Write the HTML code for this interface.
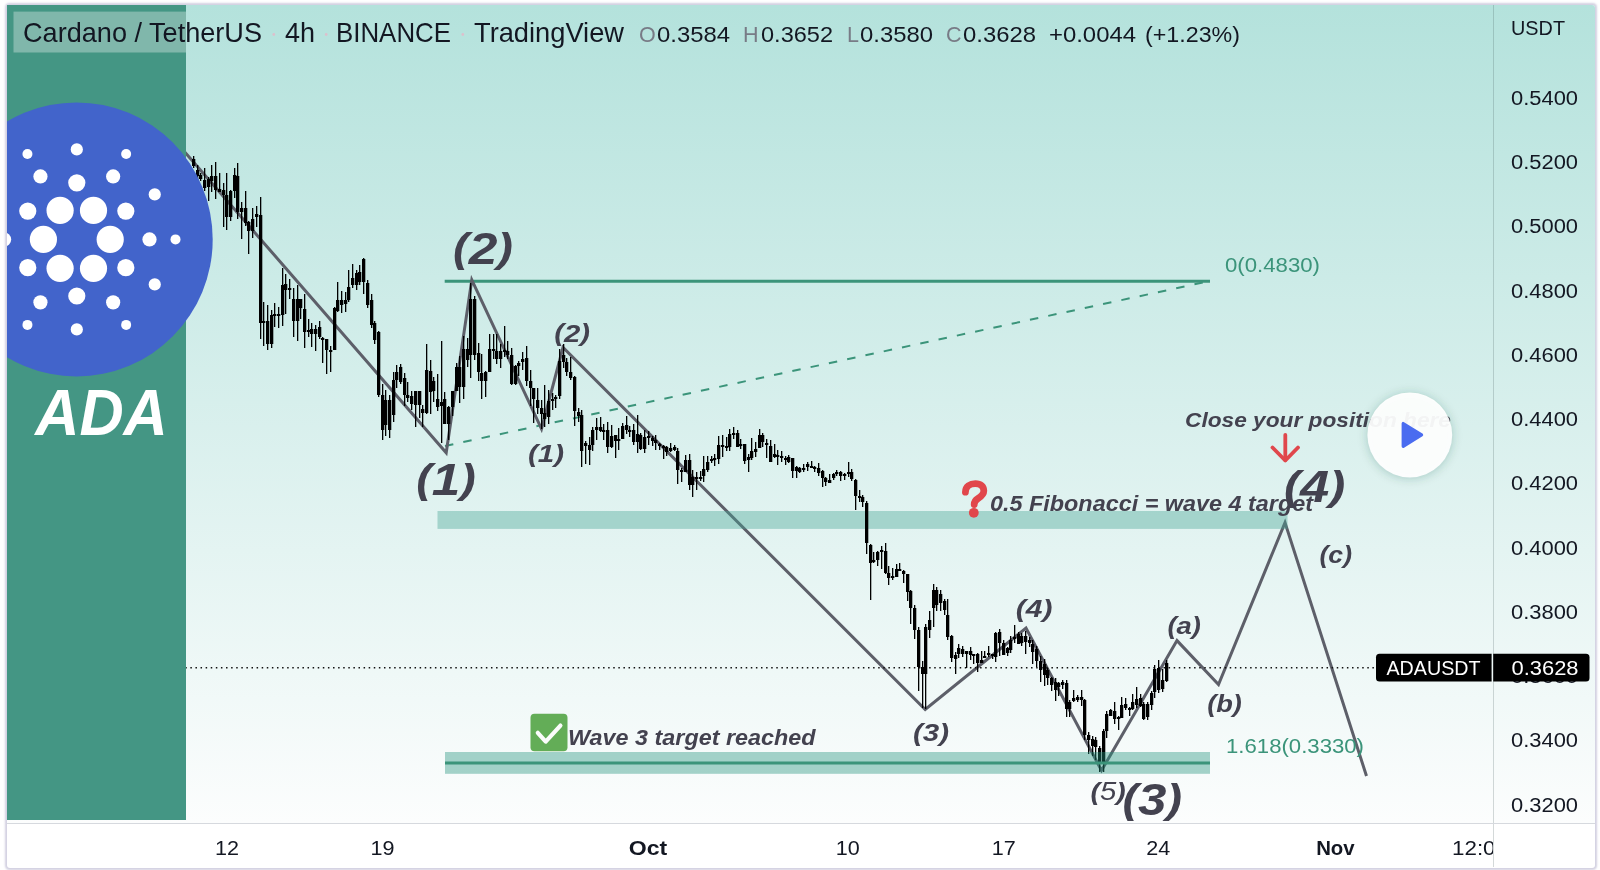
<!DOCTYPE html>
<html><head><meta charset="utf-8">
<style>
html,body{margin:0;padding:0;background:#fff;width:1600px;height:870px;overflow:hidden;}
*{font-family:"Liberation Sans", sans-serif;}
#card{position:absolute;left:7px;top:5px;width:1588px;height:862.5px;border-radius:3px;background:#fff;box-shadow:0 0 2px 1.2px rgba(200,198,218,0.8);}
#bg{position:absolute;left:7px;top:5px;width:1588px;height:818px;border-radius:3px 3px 0 0;background:linear-gradient(180deg,rgb(180,226,220) 0%,rgb(252,253,253) 100%);}
svg{position:absolute;left:0;top:0;will-change:transform;}
</style></head><body>
<div id="card"></div>
<div id="bg"></div>
<svg width="1600" height="870" viewBox="0 0 1600 870" font-family='"Liberation Sans", sans-serif'>
<!-- axes separators -->
<line x1="1493.5" y1="5" x2="1493.5" y2="867" stroke="rgba(60,80,80,0.22)" stroke-width="1"/>
<line x1="7" y1="823.5" x2="1595" y2="823.5" stroke="#d6d9de" stroke-width="1"/>
<!-- bands -->
<line x1="444.7" y1="281.2" x2="1210" y2="281.2" stroke="#3b947a" stroke-width="3"/>
<line x1="445" y1="446" x2="1210" y2="281" stroke="#3b947a" stroke-width="2" stroke-dasharray="8.5 10.2"/>
<!-- wave lines -->
<polyline fill="none" stroke="#5d5f69" stroke-width="3" stroke-linejoin="miter" points="100,54.5 446.2,452.8 471.8,279.8 541.5,428.8 563,347.5 925.2,709.5 1026,628 1101.5,770.5 1177,640.6 1218.5,684.6 1285,522.6 1366.5,776"/>
<!-- dotted price line -->
<line x1="186" y1="667.7" x2="1376" y2="667.7" stroke="#111" stroke-width="1.5" stroke-dasharray="1.5 3.595" stroke-dashoffset="0.735"/>
<!-- upper band (below candles, above wave line) -->
<rect x="437.5" y="511" width="850" height="17.9" fill="rgba(73,165,151,0.4)"/>
<!-- candles -->
<g fill="#000">
<rect x="193" y="156" width="1.3" height="12"/>
<rect x="192" y="159" width="3.3" height="7"/>
<rect x="197" y="165" width="1.3" height="15"/>
<rect x="196" y="170" width="3.3" height="6"/>
<rect x="200" y="173" width="1.3" height="8"/>
<rect x="199" y="175" width="3.3" height="4"/>
<rect x="204" y="168" width="1.3" height="23"/>
<rect x="203" y="180" width="3.3" height="8"/>
<rect x="208" y="177" width="1.3" height="24"/>
<rect x="207" y="179" width="3.3" height="8"/>
<rect x="211" y="165" width="1.3" height="27"/>
<rect x="210" y="176" width="3.3" height="5"/>
<rect x="215" y="162" width="1.3" height="37"/>
<rect x="214" y="176" width="3.3" height="14"/>
<rect x="219" y="173" width="1.3" height="19"/>
<rect x="218" y="189" width="3.3" height="3"/>
<rect x="223" y="183" width="1.3" height="44"/>
<rect x="222" y="190" width="3.3" height="5"/>
<rect x="226" y="173" width="1.3" height="57"/>
<rect x="225" y="195" width="3.3" height="22"/>
<rect x="230" y="190" width="1.3" height="31"/>
<rect x="229" y="191" width="3.3" height="26"/>
<rect x="234" y="168" width="1.3" height="30"/>
<rect x="233" y="175" width="3.3" height="16"/>
<rect x="237" y="163" width="1.3" height="56"/>
<rect x="236" y="176" width="3.3" height="36"/>
<rect x="241" y="202" width="1.3" height="37"/>
<rect x="240" y="208" width="3.3" height="4"/>
<rect x="245" y="191" width="1.3" height="35"/>
<rect x="244" y="208" width="3.3" height="15"/>
<rect x="248" y="221" width="1.3" height="33"/>
<rect x="247" y="222" width="3.3" height="9"/>
<rect x="252" y="208" width="1.3" height="30"/>
<rect x="251" y="219" width="3.3" height="12"/>
<rect x="256" y="206" width="1.3" height="21"/>
<rect x="255" y="214" width="3.3" height="3"/>
<rect x="260" y="197" width="1.3" height="142"/>
<rect x="259" y="215" width="3.3" height="108"/>
<rect x="263" y="302" width="1.3" height="44"/>
<rect x="262" y="321" width="3.3" height="2"/>
<rect x="267" y="305" width="1.3" height="45"/>
<rect x="266" y="321" width="3.3" height="23"/>
<rect x="271" y="310" width="1.3" height="38"/>
<rect x="270" y="315" width="3.3" height="29"/>
<rect x="274" y="303" width="1.3" height="24"/>
<rect x="273" y="314" width="3.3" height="2"/>
<rect x="278" y="307" width="1.3" height="21"/>
<rect x="277" y="314" width="3.3" height="2"/>
<rect x="282" y="268" width="1.3" height="58"/>
<rect x="281" y="285" width="3.3" height="30"/>
<rect x="285" y="274" width="1.3" height="40"/>
<rect x="284" y="284" width="3.3" height="6"/>
<rect x="289" y="279" width="1.3" height="20"/>
<rect x="288" y="288" width="3.3" height="2"/>
<rect x="293" y="288" width="1.3" height="49"/>
<rect x="292" y="299" width="3.3" height="22"/>
<rect x="297" y="285" width="1.3" height="56"/>
<rect x="296" y="299" width="3.3" height="22"/>
<rect x="300" y="299" width="1.3" height="20"/>
<rect x="299" y="299" width="3.3" height="9"/>
<rect x="304" y="294" width="1.3" height="54"/>
<rect x="303" y="309" width="3.3" height="23"/>
<rect x="308" y="319" width="1.3" height="18"/>
<rect x="307" y="330" width="3.3" height="2"/>
<rect x="311" y="323" width="1.3" height="24"/>
<rect x="310" y="329" width="3.3" height="5"/>
<rect x="315" y="325" width="1.3" height="26"/>
<rect x="314" y="329" width="3.3" height="5"/>
<rect x="319" y="321" width="1.3" height="18"/>
<rect x="318" y="327" width="3.3" height="10"/>
<rect x="322" y="337" width="1.3" height="26"/>
<rect x="321" y="338" width="3.3" height="2"/>
<rect x="326" y="339" width="1.3" height="35"/>
<rect x="325" y="339" width="3.3" height="11"/>
<rect x="330" y="346" width="1.3" height="26"/>
<rect x="329" y="350" width="3.3" height="2"/>
<rect x="334" y="307" width="1.3" height="43"/>
<rect x="333" y="308" width="3.3" height="42"/>
<rect x="337" y="282" width="1.3" height="30"/>
<rect x="336" y="300" width="3.3" height="11"/>
<rect x="341" y="291" width="1.3" height="22"/>
<rect x="340" y="300" width="3.3" height="5"/>
<rect x="345" y="292" width="1.3" height="20"/>
<rect x="344" y="300" width="3.3" height="4"/>
<rect x="348" y="270" width="1.3" height="32"/>
<rect x="347" y="287" width="3.3" height="13"/>
<rect x="352" y="264" width="1.3" height="24"/>
<rect x="351" y="278" width="3.3" height="7"/>
<rect x="356" y="270" width="1.3" height="20"/>
<rect x="355" y="273" width="3.3" height="12"/>
<rect x="359" y="265" width="1.3" height="20"/>
<rect x="358" y="272" width="3.3" height="10"/>
<rect x="363" y="258" width="1.3" height="36"/>
<rect x="362" y="259" width="3.3" height="23"/>
<rect x="367" y="280" width="1.3" height="28"/>
<rect x="366" y="283" width="3.3" height="22"/>
<rect x="371" y="294" width="1.3" height="34"/>
<rect x="370" y="300" width="3.3" height="25"/>
<rect x="374" y="321" width="1.3" height="23"/>
<rect x="373" y="323" width="3.3" height="17"/>
<rect x="378" y="331" width="1.3" height="66"/>
<rect x="377" y="332" width="3.3" height="63"/>
<rect x="382" y="384" width="1.3" height="56"/>
<rect x="381" y="395" width="3.3" height="35"/>
<rect x="385" y="390" width="1.3" height="46"/>
<rect x="384" y="400" width="3.3" height="25"/>
<rect x="389" y="395" width="1.3" height="43"/>
<rect x="388" y="400" width="3.3" height="30"/>
<rect x="393" y="372" width="1.3" height="50"/>
<rect x="392" y="380" width="3.3" height="35"/>
<rect x="396" y="365" width="1.3" height="23"/>
<rect x="395" y="372" width="3.3" height="8"/>
<rect x="400" y="364" width="1.3" height="20"/>
<rect x="399" y="367" width="3.3" height="15"/>
<rect x="404" y="373" width="1.3" height="33"/>
<rect x="403" y="378" width="3.3" height="17"/>
<rect x="407" y="382" width="1.3" height="20"/>
<rect x="406" y="395" width="3.3" height="3"/>
<rect x="411" y="391" width="1.3" height="19"/>
<rect x="410" y="396" width="3.3" height="8"/>
<rect x="415" y="391" width="1.3" height="36"/>
<rect x="414" y="391" width="3.3" height="14"/>
<rect x="419" y="392" width="1.3" height="26"/>
<rect x="418" y="391" width="3.3" height="14"/>
<rect x="422" y="405" width="1.3" height="22"/>
<rect x="421" y="409" width="3.3" height="4"/>
<rect x="426" y="344" width="1.3" height="70"/>
<rect x="425" y="370" width="3.3" height="43"/>
<rect x="430" y="360" width="1.3" height="54"/>
<rect x="429" y="371" width="3.3" height="21"/>
<rect x="433" y="377" width="1.3" height="25"/>
<rect x="432" y="381" width="3.3" height="10"/>
<rect x="437" y="374" width="1.3" height="37"/>
<rect x="436" y="399" width="3.3" height="8"/>
<rect x="441" y="341" width="1.3" height="102"/>
<rect x="440" y="402" width="3.3" height="4"/>
<rect x="444" y="392" width="1.3" height="32"/>
<rect x="443" y="399" width="3.3" height="25"/>
<rect x="448" y="406" width="1.3" height="34"/>
<rect x="447" y="407" width="3.3" height="17"/>
<rect x="452" y="391" width="1.3" height="25"/>
<rect x="451" y="391" width="3.3" height="16"/>
<rect x="456" y="363" width="1.3" height="28"/>
<rect x="455" y="367" width="3.3" height="24"/>
<rect x="459" y="356" width="1.3" height="47"/>
<rect x="458" y="367" width="3.3" height="20"/>
<rect x="463" y="336" width="1.3" height="63"/>
<rect x="462" y="349" width="3.3" height="38"/>
<rect x="467" y="338" width="1.3" height="29"/>
<rect x="466" y="349" width="3.3" height="11"/>
<rect x="470" y="283" width="1.3" height="95"/>
<rect x="469" y="299" width="3.3" height="56"/>
<rect x="474" y="296" width="1.3" height="64"/>
<rect x="473" y="299" width="3.3" height="56"/>
<rect x="478" y="343" width="1.3" height="38"/>
<rect x="477" y="353" width="3.3" height="19"/>
<rect x="481" y="354" width="1.3" height="45"/>
<rect x="480" y="373" width="3.3" height="8"/>
<rect x="485" y="371" width="1.3" height="26"/>
<rect x="484" y="372" width="3.3" height="9"/>
<rect x="489" y="334" width="1.3" height="38"/>
<rect x="488" y="349" width="3.3" height="23"/>
<rect x="493" y="334" width="1.3" height="25"/>
<rect x="492" y="349" width="3.3" height="2"/>
<rect x="496" y="334" width="1.3" height="30"/>
<rect x="495" y="351" width="3.3" height="8"/>
<rect x="500" y="344" width="1.3" height="24"/>
<rect x="499" y="351" width="3.3" height="8"/>
<rect x="504" y="326" width="1.3" height="31"/>
<rect x="503" y="350" width="3.3" height="2"/>
<rect x="507" y="341" width="1.3" height="18"/>
<rect x="506" y="351" width="3.3" height="4"/>
<rect x="511" y="348" width="1.3" height="37"/>
<rect x="510" y="355" width="3.3" height="29"/>
<rect x="515" y="365" width="1.3" height="20"/>
<rect x="514" y="366" width="3.3" height="18"/>
<rect x="518" y="361" width="1.3" height="15"/>
<rect x="517" y="363" width="3.3" height="3"/>
<rect x="522" y="352" width="1.3" height="18"/>
<rect x="521" y="359" width="3.3" height="3"/>
<rect x="526" y="346" width="1.3" height="40"/>
<rect x="525" y="358" width="3.3" height="23"/>
<rect x="530" y="370" width="1.3" height="36"/>
<rect x="529" y="381" width="3.3" height="7"/>
<rect x="533" y="388" width="1.3" height="35"/>
<rect x="532" y="388" width="3.3" height="11"/>
<rect x="537" y="388" width="1.3" height="26"/>
<rect x="536" y="400" width="3.3" height="8"/>
<rect x="541" y="400" width="1.3" height="29"/>
<rect x="540" y="408" width="3.3" height="6"/>
<rect x="544" y="385" width="1.3" height="42"/>
<rect x="543" y="413" width="3.3" height="6"/>
<rect x="548" y="390" width="1.3" height="34"/>
<rect x="547" y="401" width="3.3" height="16"/>
<rect x="552" y="393" width="1.3" height="17"/>
<rect x="551" y="399" width="3.3" height="2"/>
<rect x="555" y="395" width="1.3" height="13"/>
<rect x="554" y="397" width="3.3" height="2"/>
<rect x="559" y="349" width="1.3" height="50"/>
<rect x="558" y="361" width="3.3" height="35"/>
<rect x="563" y="344" width="1.3" height="24"/>
<rect x="562" y="355" width="3.3" height="7"/>
<rect x="566" y="358" width="1.3" height="18"/>
<rect x="565" y="362" width="3.3" height="10"/>
<rect x="570" y="357" width="1.3" height="23"/>
<rect x="569" y="372" width="3.3" height="6"/>
<rect x="574" y="376" width="1.3" height="50"/>
<rect x="573" y="377" width="3.3" height="34"/>
<rect x="578" y="408" width="1.3" height="14"/>
<rect x="577" y="412" width="3.3" height="4"/>
<rect x="581" y="410" width="1.3" height="57"/>
<rect x="580" y="415" width="3.3" height="36"/>
<rect x="585" y="441" width="1.3" height="23"/>
<rect x="584" y="443" width="3.3" height="3"/>
<rect x="589" y="437" width="1.3" height="28"/>
<rect x="588" y="445" width="3.3" height="5"/>
<rect x="592" y="427" width="1.3" height="24"/>
<rect x="591" y="430" width="3.3" height="15"/>
<rect x="596" y="418" width="1.3" height="22"/>
<rect x="595" y="427" width="3.3" height="3"/>
<rect x="600" y="417" width="1.3" height="15"/>
<rect x="599" y="427" width="3.3" height="4"/>
<rect x="603" y="424" width="1.3" height="16"/>
<rect x="602" y="430" width="3.3" height="2"/>
<rect x="607" y="422" width="1.3" height="31"/>
<rect x="606" y="430" width="3.3" height="17"/>
<rect x="611" y="425" width="1.3" height="23"/>
<rect x="610" y="436" width="3.3" height="11"/>
<rect x="615" y="435" width="1.3" height="23"/>
<rect x="614" y="435" width="3.3" height="6"/>
<rect x="618" y="428" width="1.3" height="22"/>
<rect x="617" y="439" width="3.3" height="2"/>
<rect x="622" y="423" width="1.3" height="16"/>
<rect x="621" y="426" width="3.3" height="13"/>
<rect x="626" y="416" width="1.3" height="18"/>
<rect x="625" y="425" width="3.3" height="5"/>
<rect x="629" y="426" width="1.3" height="11"/>
<rect x="628" y="430" width="3.3" height="2"/>
<rect x="633" y="424" width="1.3" height="21"/>
<rect x="632" y="430" width="3.3" height="12"/>
<rect x="637" y="415" width="1.3" height="38"/>
<rect x="636" y="434" width="3.3" height="8"/>
<rect x="640" y="433" width="1.3" height="17"/>
<rect x="639" y="435" width="3.3" height="14"/>
<rect x="644" y="430" width="1.3" height="23"/>
<rect x="643" y="437" width="3.3" height="12"/>
<rect x="648" y="431" width="1.3" height="14"/>
<rect x="647" y="436" width="3.3" height="2"/>
<rect x="652" y="436" width="1.3" height="10"/>
<rect x="651" y="438" width="3.3" height="3"/>
<rect x="655" y="435" width="1.3" height="15"/>
<rect x="654" y="440" width="3.3" height="3"/>
<rect x="659" y="443" width="1.3" height="7"/>
<rect x="658" y="444" width="3.3" height="2"/>
<rect x="663" y="445" width="1.3" height="14"/>
<rect x="662" y="446" width="3.3" height="2"/>
<rect x="666" y="446" width="1.3" height="10"/>
<rect x="665" y="447" width="3.3" height="5"/>
<rect x="670" y="443" width="1.3" height="9"/>
<rect x="669" y="448" width="3.3" height="3"/>
<rect x="674" y="445" width="1.3" height="6"/>
<rect x="673" y="447" width="3.3" height="3"/>
<rect x="677" y="448" width="1.3" height="36"/>
<rect x="676" y="451" width="3.3" height="19"/>
<rect x="681" y="468" width="1.3" height="14"/>
<rect x="680" y="470" width="3.3" height="2"/>
<rect x="685" y="455" width="1.3" height="17"/>
<rect x="684" y="460" width="3.3" height="12"/>
<rect x="689" y="454" width="1.3" height="36"/>
<rect x="688" y="460" width="3.3" height="25"/>
<rect x="692" y="470" width="1.3" height="27"/>
<rect x="691" y="477" width="3.3" height="8"/>
<rect x="696" y="472" width="1.3" height="18"/>
<rect x="695" y="477" width="3.3" height="2"/>
<rect x="700" y="471" width="1.3" height="10"/>
<rect x="699" y="477" width="3.3" height="2"/>
<rect x="703" y="456" width="1.3" height="26"/>
<rect x="702" y="469" width="3.3" height="7"/>
<rect x="707" y="456" width="1.3" height="16"/>
<rect x="706" y="462" width="3.3" height="8"/>
<rect x="711" y="456" width="1.3" height="7"/>
<rect x="710" y="459" width="3.3" height="2"/>
<rect x="714" y="454" width="1.3" height="12"/>
<rect x="713" y="458" width="3.3" height="2"/>
<rect x="718" y="436" width="1.3" height="28"/>
<rect x="717" y="445" width="3.3" height="14"/>
<rect x="722" y="435" width="1.3" height="22"/>
<rect x="721" y="445" width="3.3" height="2"/>
<rect x="726" y="437" width="1.3" height="14"/>
<rect x="725" y="446" width="3.3" height="2"/>
<rect x="729" y="429" width="1.3" height="22"/>
<rect x="728" y="434" width="3.3" height="13"/>
<rect x="733" y="427" width="1.3" height="12"/>
<rect x="732" y="433" width="3.3" height="2"/>
<rect x="737" y="430" width="1.3" height="17"/>
<rect x="736" y="433" width="3.3" height="14"/>
<rect x="740" y="439" width="1.3" height="10"/>
<rect x="739" y="444" width="3.3" height="2"/>
<rect x="744" y="444" width="1.3" height="20"/>
<rect x="743" y="444" width="3.3" height="17"/>
<rect x="748" y="454" width="1.3" height="18"/>
<rect x="747" y="457" width="3.3" height="3"/>
<rect x="751" y="438" width="1.3" height="22"/>
<rect x="750" y="451" width="3.3" height="7"/>
<rect x="755" y="442" width="1.3" height="15"/>
<rect x="754" y="449" width="3.3" height="3"/>
<rect x="759" y="429" width="1.3" height="19"/>
<rect x="758" y="435" width="3.3" height="13"/>
<rect x="762" y="433" width="1.3" height="14"/>
<rect x="761" y="435" width="3.3" height="7"/>
<rect x="766" y="439" width="1.3" height="19"/>
<rect x="765" y="443" width="3.3" height="2"/>
<rect x="770" y="440" width="1.3" height="22"/>
<rect x="769" y="446" width="3.3" height="16"/>
<rect x="774" y="444" width="1.3" height="14"/>
<rect x="773" y="454" width="3.3" height="3"/>
<rect x="777" y="450" width="1.3" height="15"/>
<rect x="776" y="455" width="3.3" height="2"/>
<rect x="781" y="451" width="1.3" height="11"/>
<rect x="780" y="456" width="3.3" height="2"/>
<rect x="785" y="456" width="1.3" height="9"/>
<rect x="784" y="458" width="3.3" height="2"/>
<rect x="788" y="455" width="1.3" height="8"/>
<rect x="787" y="457" width="3.3" height="5"/>
<rect x="792" y="458" width="1.3" height="20"/>
<rect x="791" y="458" width="3.3" height="13"/>
<rect x="796" y="466" width="1.3" height="12"/>
<rect x="795" y="467" width="3.3" height="4"/>
<rect x="799" y="467" width="1.3" height="6"/>
<rect x="798" y="468" width="3.3" height="4"/>
<rect x="803" y="464" width="1.3" height="8"/>
<rect x="802" y="468" width="3.3" height="2"/>
<rect x="807" y="462" width="1.3" height="9"/>
<rect x="806" y="464" width="3.3" height="3"/>
<rect x="811" y="461" width="1.3" height="7"/>
<rect x="810" y="466" width="3.3" height="2"/>
<rect x="814" y="466" width="1.3" height="6"/>
<rect x="813" y="467" width="3.3" height="2"/>
<rect x="818" y="463" width="1.3" height="13"/>
<rect x="817" y="468" width="3.3" height="5"/>
<rect x="822" y="470" width="1.3" height="17"/>
<rect x="821" y="471" width="3.3" height="7"/>
<rect x="825" y="477" width="1.3" height="9"/>
<rect x="824" y="478" width="3.3" height="4"/>
<rect x="829" y="474" width="1.3" height="9"/>
<rect x="828" y="480" width="3.3" height="3"/>
<rect x="833" y="473" width="1.3" height="7"/>
<rect x="832" y="474" width="3.3" height="4"/>
<rect x="836" y="470" width="1.3" height="6"/>
<rect x="835" y="472" width="3.3" height="2"/>
<rect x="840" y="471" width="1.3" height="10"/>
<rect x="839" y="472" width="3.3" height="4"/>
<rect x="844" y="473" width="1.3" height="7"/>
<rect x="843" y="474" width="3.3" height="2"/>
<rect x="848" y="462" width="1.3" height="15"/>
<rect x="847" y="472" width="3.3" height="2"/>
<rect x="851" y="469" width="1.3" height="12"/>
<rect x="850" y="472" width="3.3" height="7"/>
<rect x="855" y="479" width="1.3" height="31"/>
<rect x="854" y="480" width="3.3" height="16"/>
<rect x="859" y="490" width="1.3" height="12"/>
<rect x="858" y="496" width="3.3" height="2"/>
<rect x="862" y="495" width="1.3" height="12"/>
<rect x="861" y="497" width="3.3" height="5"/>
<rect x="866" y="501" width="1.3" height="53"/>
<rect x="865" y="503" width="3.3" height="40"/>
<rect x="870" y="544" width="1.3" height="56"/>
<rect x="869" y="545" width="3.3" height="18"/>
<rect x="873" y="552" width="1.3" height="11"/>
<rect x="872" y="560" width="3.3" height="2"/>
<rect x="877" y="551" width="1.3" height="15"/>
<rect x="876" y="552" width="3.3" height="8"/>
<rect x="881" y="546" width="1.3" height="23"/>
<rect x="880" y="550" width="3.3" height="2"/>
<rect x="885" y="543" width="1.3" height="31"/>
<rect x="884" y="551" width="3.3" height="22"/>
<rect x="888" y="566" width="1.3" height="19"/>
<rect x="887" y="573" width="3.3" height="5"/>
<rect x="892" y="568" width="1.3" height="12"/>
<rect x="891" y="576" width="3.3" height="2"/>
<rect x="896" y="564" width="1.3" height="13"/>
<rect x="895" y="569" width="3.3" height="8"/>
<rect x="899" y="563" width="1.3" height="8"/>
<rect x="898" y="569" width="3.3" height="2"/>
<rect x="903" y="570" width="1.3" height="13"/>
<rect x="902" y="571" width="3.3" height="3"/>
<rect x="907" y="574" width="1.3" height="27"/>
<rect x="906" y="574" width="3.3" height="18"/>
<rect x="910" y="590" width="1.3" height="34"/>
<rect x="909" y="591" width="3.3" height="17"/>
<rect x="914" y="605" width="1.3" height="34"/>
<rect x="913" y="608" width="3.3" height="22"/>
<rect x="918" y="627" width="1.3" height="64"/>
<rect x="917" y="630" width="3.3" height="37"/>
<rect x="922" y="661" width="1.3" height="47"/>
<rect x="921" y="667" width="3.3" height="7"/>
<rect x="925" y="624" width="1.3" height="85"/>
<rect x="924" y="627" width="3.3" height="47"/>
<rect x="929" y="611" width="1.3" height="27"/>
<rect x="928" y="620" width="3.3" height="10"/>
<rect x="933" y="584" width="1.3" height="43"/>
<rect x="932" y="590" width="3.3" height="18"/>
<rect x="936" y="587" width="1.3" height="24"/>
<rect x="935" y="590" width="3.3" height="15"/>
<rect x="940" y="590" width="1.3" height="21"/>
<rect x="939" y="594" width="3.3" height="9"/>
<rect x="944" y="599" width="1.3" height="16"/>
<rect x="943" y="601" width="3.3" height="9"/>
<rect x="947" y="599" width="1.3" height="41"/>
<rect x="946" y="615" width="3.3" height="22"/>
<rect x="951" y="635" width="1.3" height="27"/>
<rect x="950" y="636" width="3.3" height="22"/>
<rect x="955" y="652" width="1.3" height="22"/>
<rect x="954" y="655" width="3.3" height="4"/>
<rect x="958" y="644" width="1.3" height="14"/>
<rect x="957" y="648" width="3.3" height="6"/>
<rect x="962" y="646" width="1.3" height="11"/>
<rect x="961" y="649" width="3.3" height="5"/>
<rect x="966" y="651" width="1.3" height="17"/>
<rect x="965" y="651" width="3.3" height="3"/>
<rect x="970" y="647" width="1.3" height="13"/>
<rect x="969" y="651" width="3.3" height="4"/>
<rect x="973" y="654" width="1.3" height="10"/>
<rect x="972" y="654" width="3.3" height="2"/>
<rect x="977" y="653" width="1.3" height="19"/>
<rect x="976" y="654" width="3.3" height="9"/>
<rect x="981" y="651" width="1.3" height="12"/>
<rect x="980" y="660" width="3.3" height="3"/>
<rect x="984" y="651" width="1.3" height="7"/>
<rect x="983" y="656" width="3.3" height="2"/>
<rect x="988" y="646" width="1.3" height="11"/>
<rect x="987" y="653" width="3.3" height="2"/>
<rect x="992" y="654" width="1.3" height="5"/>
<rect x="991" y="654" width="3.3" height="2"/>
<rect x="995" y="632" width="1.3" height="30"/>
<rect x="994" y="633" width="3.3" height="24"/>
<rect x="999" y="629" width="1.3" height="27"/>
<rect x="998" y="632" width="3.3" height="11"/>
<rect x="1003" y="640" width="1.3" height="15"/>
<rect x="1002" y="643" width="3.3" height="12"/>
<rect x="1007" y="647" width="1.3" height="9"/>
<rect x="1006" y="648" width="3.3" height="5"/>
<rect x="1010" y="636" width="1.3" height="17"/>
<rect x="1009" y="640" width="3.3" height="10"/>
<rect x="1014" y="625" width="1.3" height="18"/>
<rect x="1013" y="637" width="3.3" height="2"/>
<rect x="1018" y="632" width="1.3" height="12"/>
<rect x="1017" y="634" width="3.3" height="10"/>
<rect x="1021" y="633" width="1.3" height="13"/>
<rect x="1020" y="636" width="3.3" height="7"/>
<rect x="1025" y="631" width="1.3" height="23"/>
<rect x="1024" y="636" width="3.3" height="6"/>
<rect x="1029" y="637" width="1.3" height="10"/>
<rect x="1028" y="640" width="3.3" height="3"/>
<rect x="1032" y="640" width="1.3" height="24"/>
<rect x="1031" y="644" width="3.3" height="8"/>
<rect x="1036" y="646" width="1.3" height="21"/>
<rect x="1035" y="649" width="3.3" height="12"/>
<rect x="1040" y="656" width="1.3" height="26"/>
<rect x="1039" y="661" width="3.3" height="9"/>
<rect x="1044" y="659" width="1.3" height="27"/>
<rect x="1043" y="664" width="3.3" height="11"/>
<rect x="1047" y="668" width="1.3" height="17"/>
<rect x="1046" y="670" width="3.3" height="8"/>
<rect x="1051" y="677" width="1.3" height="14"/>
<rect x="1050" y="678" width="3.3" height="7"/>
<rect x="1055" y="678" width="1.3" height="23"/>
<rect x="1054" y="682" width="3.3" height="8"/>
<rect x="1058" y="682" width="1.3" height="14"/>
<rect x="1057" y="683" width="3.3" height="4"/>
<rect x="1062" y="680" width="1.3" height="9"/>
<rect x="1061" y="682" width="3.3" height="3"/>
<rect x="1066" y="680" width="1.3" height="37"/>
<rect x="1065" y="683" width="3.3" height="26"/>
<rect x="1069" y="700" width="1.3" height="17"/>
<rect x="1068" y="702" width="3.3" height="7"/>
<rect x="1073" y="690" width="1.3" height="12"/>
<rect x="1072" y="698" width="3.3" height="3"/>
<rect x="1077" y="695" width="1.3" height="7"/>
<rect x="1076" y="697" width="3.3" height="3"/>
<rect x="1081" y="690" width="1.3" height="16"/>
<rect x="1080" y="697" width="3.3" height="3"/>
<rect x="1084" y="699" width="1.3" height="41"/>
<rect x="1083" y="700" width="3.3" height="35"/>
<rect x="1088" y="732" width="1.3" height="22"/>
<rect x="1087" y="735" width="3.3" height="5"/>
<rect x="1092" y="736" width="1.3" height="20"/>
<rect x="1091" y="739" width="3.3" height="7"/>
<rect x="1095" y="737" width="1.3" height="23"/>
<rect x="1094" y="740" width="3.3" height="7"/>
<rect x="1099" y="746" width="1.3" height="26"/>
<rect x="1098" y="748" width="3.3" height="15"/>
<rect x="1103" y="729" width="1.3" height="43"/>
<rect x="1102" y="731" width="3.3" height="32"/>
<rect x="1106" y="711" width="1.3" height="27"/>
<rect x="1105" y="714" width="3.3" height="17"/>
<rect x="1110" y="709" width="1.3" height="7"/>
<rect x="1109" y="710" width="3.3" height="6"/>
<rect x="1114" y="702" width="1.3" height="22"/>
<rect x="1113" y="711" width="3.3" height="8"/>
<rect x="1118" y="716" width="1.3" height="14"/>
<rect x="1117" y="717" width="3.3" height="2"/>
<rect x="1121" y="697" width="1.3" height="21"/>
<rect x="1120" y="705" width="3.3" height="13"/>
<rect x="1125" y="698" width="1.3" height="12"/>
<rect x="1124" y="704" width="3.3" height="4"/>
<rect x="1129" y="707" width="1.3" height="9"/>
<rect x="1128" y="708" width="3.3" height="2"/>
<rect x="1132" y="694" width="1.3" height="16"/>
<rect x="1131" y="702" width="3.3" height="7"/>
<rect x="1136" y="687" width="1.3" height="21"/>
<rect x="1135" y="699" width="3.3" height="6"/>
<rect x="1140" y="694" width="1.3" height="13"/>
<rect x="1139" y="698" width="3.3" height="8"/>
<rect x="1143" y="702" width="1.3" height="18"/>
<rect x="1142" y="704" width="3.3" height="15"/>
<rect x="1147" y="702" width="1.3" height="18"/>
<rect x="1146" y="704" width="3.3" height="13"/>
<rect x="1151" y="691" width="1.3" height="19"/>
<rect x="1150" y="693" width="3.3" height="12"/>
<rect x="1154" y="665" width="1.3" height="33"/>
<rect x="1153" y="669" width="3.3" height="23"/>
<rect x="1158" y="660" width="1.3" height="33"/>
<rect x="1157" y="668" width="3.3" height="22"/>
<rect x="1162" y="669" width="1.3" height="23"/>
<rect x="1161" y="680" width="3.3" height="9"/>
<rect x="1166" y="660" width="1.3" height="22"/>
<rect x="1165" y="663" width="3.3" height="18"/>
</g>
<!-- bands (semi-transparent, over candles) -->
<rect x="445" y="752" width="765" height="21.8" fill="rgba(36,148,126,0.4)"/>
<line x1="445" y1="762.9" x2="1210" y2="762.9" stroke="#3b947a" stroke-width="3"/>
<!-- labels -->
<text x="453.0" y="263.5" font-weight="bold" font-style="italic" fill="#43424f" textLength="60.0" lengthAdjust="spacingAndGlyphs"><tspan font-size="41" dy="-2">(</tspan><tspan font-size="45" dy="2">2</tspan><tspan font-size="41" dy="-2">)</tspan></text>
<text x="416.2" y="495" font-weight="bold" font-style="italic" fill="#43424f" textLength="59.5" lengthAdjust="spacingAndGlyphs"><tspan font-size="41" dy="-2">(</tspan><tspan font-size="45" dy="2">1</tspan><tspan font-size="41" dy="-2">)</tspan></text>
<text x="554.3" y="341.5" font-weight="bold" font-style="italic" fill="#43424f" textLength="35.8" lengthAdjust="spacingAndGlyphs"><tspan font-size="24.2" dy="-0.2">(</tspan><tspan font-size="24.2" dy="0.2">2</tspan><tspan font-size="24.2" dy="-0.2">)</tspan></text>
<text x="527.9" y="461.9" font-weight="bold" font-style="italic" fill="#43424f" textLength="36.1" lengthAdjust="spacingAndGlyphs"><tspan font-size="24.2" dy="-0.2">(</tspan><tspan font-size="24.2" dy="0.2">1</tspan><tspan font-size="24.2" dy="-0.2">)</tspan></text>
<text x="912.9" y="741" font-weight="bold" font-style="italic" fill="#43424f" textLength="36.1" lengthAdjust="spacingAndGlyphs"><tspan font-size="24.2" dy="-0.2">(</tspan><tspan font-size="24.2" dy="0.2">3</tspan><tspan font-size="24.2" dy="-0.2">)</tspan></text>
<text x="1015.7" y="617" font-weight="bold" font-style="italic" fill="#43424f" textLength="36.7" lengthAdjust="spacingAndGlyphs"><tspan font-size="24.2" dy="-0.2">(</tspan><tspan font-size="24.2" dy="0.2">4</tspan><tspan font-size="24.2" dy="-0.2">)</tspan></text>
<text x="1090.5" y="800.2" font-weight="bold" font-style="italic" fill="#43424f" textLength="35.2" lengthAdjust="spacingAndGlyphs"><tspan font-size="24.2" dy="-0.2">(</tspan><tspan font-weight="normal" font-size="25" dy="0.2">5</tspan><tspan font-size="24.2" dy="-0.2">)</tspan></text>
<text x="1122.5" y="814.5" font-weight="bold" font-style="italic" fill="#43424f" textLength="59.5" lengthAdjust="spacingAndGlyphs"><tspan font-size="41" dy="-2">(</tspan><tspan font-size="45" dy="2">3</tspan><tspan font-size="41" dy="-2">)</tspan></text>
<text x="1167.5" y="634" font-weight="bold" font-style="italic" fill="#43424f" textLength="33.5" lengthAdjust="spacingAndGlyphs"><tspan font-size="24.2" dy="-0.2">(</tspan><tspan font-size="24.2" dy="0.2">a</tspan><tspan font-size="24.2" dy="-0.2">)</tspan></text>
<text x="1207.2" y="712" font-weight="bold" font-style="italic" fill="#43424f" textLength="34.7" lengthAdjust="spacingAndGlyphs"><tspan font-size="24.2" dy="-0.2">(</tspan><tspan font-size="24.2" dy="0.2">b</tspan><tspan font-size="24.2" dy="-0.2">)</tspan></text>
<text x="1284.1" y="501.7" font-weight="bold" font-style="italic" fill="#43424f" textLength="61.2" lengthAdjust="spacingAndGlyphs"><tspan font-size="41" dy="-2">(</tspan><tspan font-size="45" dy="2">4</tspan><tspan font-size="41" dy="-2">)</tspan></text>
<text x="1319.5" y="562.8" font-weight="bold" font-style="italic" fill="#43424f" textLength="32.5" lengthAdjust="spacingAndGlyphs"><tspan font-size="24.2" dy="-0.2">(</tspan><tspan font-size="24.2" dy="0.2">c</tspan><tspan font-size="24.2" dy="-0.2">)</tspan></text>
<text x="1225" y="272" font-size="20" font-weight="normal" font-style="normal" fill="#3b947a" text-anchor="start" textLength="95" lengthAdjust="spacingAndGlyphs">0(0.4830)</text>
<text x="1226" y="753" font-size="20" font-weight="normal" font-style="normal" fill="#3b947a" text-anchor="start" textLength="138" lengthAdjust="spacingAndGlyphs">1.618(0.3330)</text>
<text x="990" y="510.5" font-size="21.5" font-weight="bold" font-style="italic" fill="#43424f" text-anchor="start" textLength="323" lengthAdjust="spacingAndGlyphs">0.5 Fibonacci = wave 4 target</text>
<text x="568" y="745" font-size="21.5" font-weight="bold" font-style="italic" fill="#43424f" text-anchor="start" textLength="247.5" lengthAdjust="spacingAndGlyphs">Wave 3 target reached</text>
<text x="1185" y="427" font-size="21" font-weight="bold" font-style="italic" fill="#43424f" text-anchor="start" textLength="266" lengthAdjust="spacingAndGlyphs">Close your position here</text>
<!-- red question -->
<path d="M965.4,492.2 C965.4,486.2 970.2,483.6 975.4,483.6 C980.6,483.6 983.8,486.6 983.8,490.8 C983.8,495 980.5,497 978,498.5 C975.5,500 974.2,501.3 974.2,504.6" fill="none" stroke="#e1464b" stroke-width="6.8" stroke-linecap="round" stroke-linejoin="round"/>
<circle cx="973.8" cy="512.8" r="4.9" fill="#e1464b"/>
<!-- check box -->
<rect x="530.5" y="713.8" width="37" height="37.4" rx="4" fill="#63ad57"/>
<polyline points="537.8,732.8 545.7,741.6 560.4,725.6" fill="none" stroke="#fbfcfb" stroke-width="4.2" stroke-linecap="round" stroke-linejoin="round"/>
<!-- red arrow -->
<g stroke="#e0474c" stroke-width="3.8" fill="none" stroke-linecap="round" stroke-linejoin="round">
<line x1="1285.3" y1="435" x2="1285.3" y2="460"/>
<polyline points="1272.5,447.5 1285.3,460.5 1298,447.5"/>
</g>
<!-- play button -->
<filter id="sh" x="-50%" y="-50%" width="200%" height="200%"><feGaussianBlur stdDeviation="5"/></filter>
<circle cx="1409.8" cy="436" r="43" fill="rgba(20,80,70,0.22)" filter="url(#sh)"/>
<circle cx="1409.8" cy="435" r="42.4" fill="rgba(255,255,255,0.94)"/>
<path d="M1403.2,423.5 L1403.2,446.3 L1421.6,434.9 Z" fill="#4a6cf0" stroke="#4a6cf0" stroke-width="3.2" stroke-linejoin="round"/>
<!-- logo panel -->
<rect x="7" y="5" width="179" height="815" fill="#449684"/>
<clipPath id="lc"><rect x="7" y="5" width="400" height="815"/></clipPath>
<g clip-path="url(#lc)">
<ellipse cx="76.5" cy="239.45" rx="136.2" ry="137.05" fill="#4264cb"/>
<circle cx="110.20" cy="239.40" r="13.6" fill="#fff"/>
<circle cx="93.50" cy="210.47" r="13.6" fill="#fff"/>
<circle cx="60.10" cy="210.47" r="13.6" fill="#fff"/>
<circle cx="43.40" cy="239.40" r="13.6" fill="#fff"/>
<circle cx="60.10" cy="268.33" r="13.6" fill="#fff"/>
<circle cx="93.50" cy="268.33" r="13.6" fill="#fff"/>
<circle cx="125.82" cy="211.10" r="8.6" fill="#fff"/>
<circle cx="76.80" cy="182.80" r="8.6" fill="#fff"/>
<circle cx="27.78" cy="211.10" r="8.6" fill="#fff"/>
<circle cx="27.78" cy="267.70" r="8.6" fill="#fff"/>
<circle cx="76.80" cy="296.00" r="8.6" fill="#fff"/>
<circle cx="125.82" cy="267.70" r="8.6" fill="#fff"/>
<circle cx="149.50" cy="239.40" r="7.1" fill="#fff"/>
<circle cx="113.15" cy="176.44" r="7.1" fill="#fff"/>
<circle cx="40.45" cy="176.44" r="7.1" fill="#fff"/>
<circle cx="4.10" cy="239.40" r="7.1" fill="#fff"/>
<circle cx="40.45" cy="302.36" r="7.1" fill="#fff"/>
<circle cx="113.15" cy="302.36" r="7.1" fill="#fff"/>
<circle cx="154.74" cy="194.40" r="6.1" fill="#fff"/>
<circle cx="76.80" cy="149.40" r="6.1" fill="#fff"/>
<circle cx="-1.14" cy="194.40" r="6.1" fill="#fff"/>
<circle cx="-1.14" cy="284.40" r="6.1" fill="#fff"/>
<circle cx="76.80" cy="329.40" r="6.1" fill="#fff"/>
<circle cx="154.74" cy="284.40" r="6.1" fill="#fff"/>
<circle cx="175.50" cy="239.40" r="5.0" fill="#fff"/>
<circle cx="126.15" cy="153.92" r="5.0" fill="#fff"/>
<circle cx="27.45" cy="153.92" r="5.0" fill="#fff"/>
<circle cx="-21.90" cy="239.40" r="5.0" fill="#fff"/>
<circle cx="27.45" cy="324.88" r="5.0" fill="#fff"/>
<circle cx="126.15" cy="324.88" r="5.0" fill="#fff"/>
</g>
<text x="101.5" y="435" font-size="64.5" font-weight="bold" font-style="italic" fill="#fff" text-anchor="middle" textLength="132.5" lengthAdjust="spacingAndGlyphs">ADA</text>
<!-- title -->
<rect x="13.5" y="11.6" width="172.5" height="40.9" fill="rgba(255,255,255,0.32)"/>
<text x="23" y="42" font-size="27.5" font-weight="normal" font-style="normal" fill="#131722" text-anchor="start" textLength="239" lengthAdjust="spacingAndGlyphs">Cardano / TetherUS</text>
<circle cx="273.8" cy="34.5" r="1.4" fill="#dcc0cc"/>
<text x="285" y="42" font-size="27.5" font-weight="normal" font-style="normal" fill="#131722" text-anchor="start" textLength="30" lengthAdjust="spacingAndGlyphs">4h</text>
<circle cx="326.2" cy="34.5" r="1.4" fill="#dcc0cc"/>
<text x="336" y="42" font-size="27.5" font-weight="normal" font-style="normal" fill="#131722" text-anchor="start" textLength="115" lengthAdjust="spacingAndGlyphs">BINANCE</text>
<circle cx="462.8" cy="34.5" r="1.4" fill="#dcc0cc"/>
<text x="474" y="42" font-size="27.5" font-weight="normal" font-style="normal" fill="#131722" text-anchor="start" textLength="150" lengthAdjust="spacingAndGlyphs">TradingView</text>
<text x="639" y="42" font-size="21.5" font-weight="normal" font-style="normal" fill="#787b86" text-anchor="start">O</text>
<text x="657" y="42" font-size="22" font-weight="normal" font-style="normal" fill="#131722" text-anchor="start" textLength="73" lengthAdjust="spacingAndGlyphs">0.3584</text>
<text x="743" y="42" font-size="21.5" font-weight="normal" font-style="normal" fill="#787b86" text-anchor="start">H</text>
<text x="761" y="42" font-size="22" font-weight="normal" font-style="normal" fill="#131722" text-anchor="start" textLength="72" lengthAdjust="spacingAndGlyphs">0.3652</text>
<text x="847" y="42" font-size="21.5" font-weight="normal" font-style="normal" fill="#787b86" text-anchor="start">L</text>
<text x="860" y="42" font-size="22" font-weight="normal" font-style="normal" fill="#131722" text-anchor="start" textLength="73" lengthAdjust="spacingAndGlyphs">0.3580</text>
<text x="946" y="42" font-size="21.5" font-weight="normal" font-style="normal" fill="#787b86" text-anchor="start">C</text>
<text x="963" y="42" font-size="22" font-weight="normal" font-style="normal" fill="#131722" text-anchor="start" textLength="73" lengthAdjust="spacingAndGlyphs">0.3628</text>
<text x="1049" y="42" font-size="22" font-weight="normal" font-style="normal" fill="#131722" text-anchor="start" textLength="87" lengthAdjust="spacingAndGlyphs">+0.0044</text>
<text x="1145" y="42" font-size="22" font-weight="normal" font-style="normal" fill="#131722" text-anchor="start" textLength="95" lengthAdjust="spacingAndGlyphs">(+1.23%)</text>
<!-- price axis -->
<text x="1511" y="35" font-size="20" font-weight="normal" font-style="normal" fill="#131722" text-anchor="start" textLength="54" lengthAdjust="spacingAndGlyphs">USDT</text>
<text x="1511" y="105" font-size="20" font-weight="normal" font-style="normal" fill="#131722" text-anchor="start" textLength="67" lengthAdjust="spacingAndGlyphs">0.5400</text>
<text x="1511" y="169" font-size="20" font-weight="normal" font-style="normal" fill="#131722" text-anchor="start" textLength="67" lengthAdjust="spacingAndGlyphs">0.5200</text>
<text x="1511" y="233" font-size="20" font-weight="normal" font-style="normal" fill="#131722" text-anchor="start" textLength="67" lengthAdjust="spacingAndGlyphs">0.5000</text>
<text x="1511" y="298" font-size="20" font-weight="normal" font-style="normal" fill="#131722" text-anchor="start" textLength="67" lengthAdjust="spacingAndGlyphs">0.4800</text>
<text x="1511" y="362" font-size="20" font-weight="normal" font-style="normal" fill="#131722" text-anchor="start" textLength="67" lengthAdjust="spacingAndGlyphs">0.4600</text>
<text x="1511" y="426" font-size="20" font-weight="normal" font-style="normal" fill="#131722" text-anchor="start" textLength="67" lengthAdjust="spacingAndGlyphs">0.4400</text>
<text x="1511" y="490" font-size="20" font-weight="normal" font-style="normal" fill="#131722" text-anchor="start" textLength="67" lengthAdjust="spacingAndGlyphs">0.4200</text>
<text x="1511" y="555" font-size="20" font-weight="normal" font-style="normal" fill="#131722" text-anchor="start" textLength="67" lengthAdjust="spacingAndGlyphs">0.4000</text>
<text x="1511" y="619" font-size="20" font-weight="normal" font-style="normal" fill="#131722" text-anchor="start" textLength="67" lengthAdjust="spacingAndGlyphs">0.3800</text>
<text x="1511" y="683" font-size="20" font-weight="normal" font-style="normal" fill="#131722" text-anchor="start" textLength="67" lengthAdjust="spacingAndGlyphs">0.3600</text>
<text x="1511" y="747" font-size="20" font-weight="normal" font-style="normal" fill="#131722" text-anchor="start" textLength="67" lengthAdjust="spacingAndGlyphs">0.3400</text>
<text x="1511" y="812" font-size="20" font-weight="normal" font-style="normal" fill="#131722" text-anchor="start" textLength="67" lengthAdjust="spacingAndGlyphs">0.3200</text>

<path d="M1379.5,653.8 H1491.6 V681.5 H1379.5 Q1376,681.5 1376,678 V657.3 Q1376,653.8 1379.5,653.8 Z" fill="#000"/>
<path d="M1493.2,653.8 H1586 Q1589.5,653.8 1589.5,657.3 V678 Q1589.5,681.5 1586,681.5 H1493.2 Z" fill="#000"/>
<text x="1433.5" y="675" font-size="20" font-weight="normal" font-style="normal" fill="#fff" text-anchor="middle" textLength="94" lengthAdjust="spacingAndGlyphs">ADAUSDT</text>
<text x="1545" y="675" font-size="20" font-weight="normal" font-style="normal" fill="#fff" text-anchor="middle" textLength="67" lengthAdjust="spacingAndGlyphs">0.3628</text>
<text x="227" y="855" font-size="20.5" font-weight="normal" font-style="normal" fill="#131722" text-anchor="middle" textLength="24" lengthAdjust="spacingAndGlyphs">12</text>
<text x="382.4" y="855" font-size="20.5" font-weight="normal" font-style="normal" fill="#131722" text-anchor="middle" textLength="24" lengthAdjust="spacingAndGlyphs">19</text>
<text x="648" y="855" font-size="20.5" font-weight="bold" font-style="normal" fill="#131722" text-anchor="middle" textLength="38.5" lengthAdjust="spacingAndGlyphs">Oct</text>
<text x="847.7" y="855" font-size="20.5" font-weight="normal" font-style="normal" fill="#131722" text-anchor="middle" textLength="24" lengthAdjust="spacingAndGlyphs">10</text>
<text x="1003.8" y="855" font-size="20.5" font-weight="normal" font-style="normal" fill="#131722" text-anchor="middle" textLength="24" lengthAdjust="spacingAndGlyphs">17</text>
<text x="1158.3" y="855" font-size="20.5" font-weight="normal" font-style="normal" fill="#131722" text-anchor="middle" textLength="24" lengthAdjust="spacingAndGlyphs">24</text>
<text x="1335.4" y="855" font-size="20.5" font-weight="bold" font-style="normal" fill="#131722" text-anchor="middle" textLength="38.5" lengthAdjust="spacingAndGlyphs">Nov</text>
<text x="1452" y="855" font-size="20.5" font-weight="normal" font-style="normal" fill="#131722" text-anchor="start" textLength="56" lengthAdjust="spacingAndGlyphs" clip-path="url(#tc)">12:00</text>
<clipPath id="tc"><rect x="1400" y="824" width="93" height="43"/></clipPath>
</svg>
</body></html>
